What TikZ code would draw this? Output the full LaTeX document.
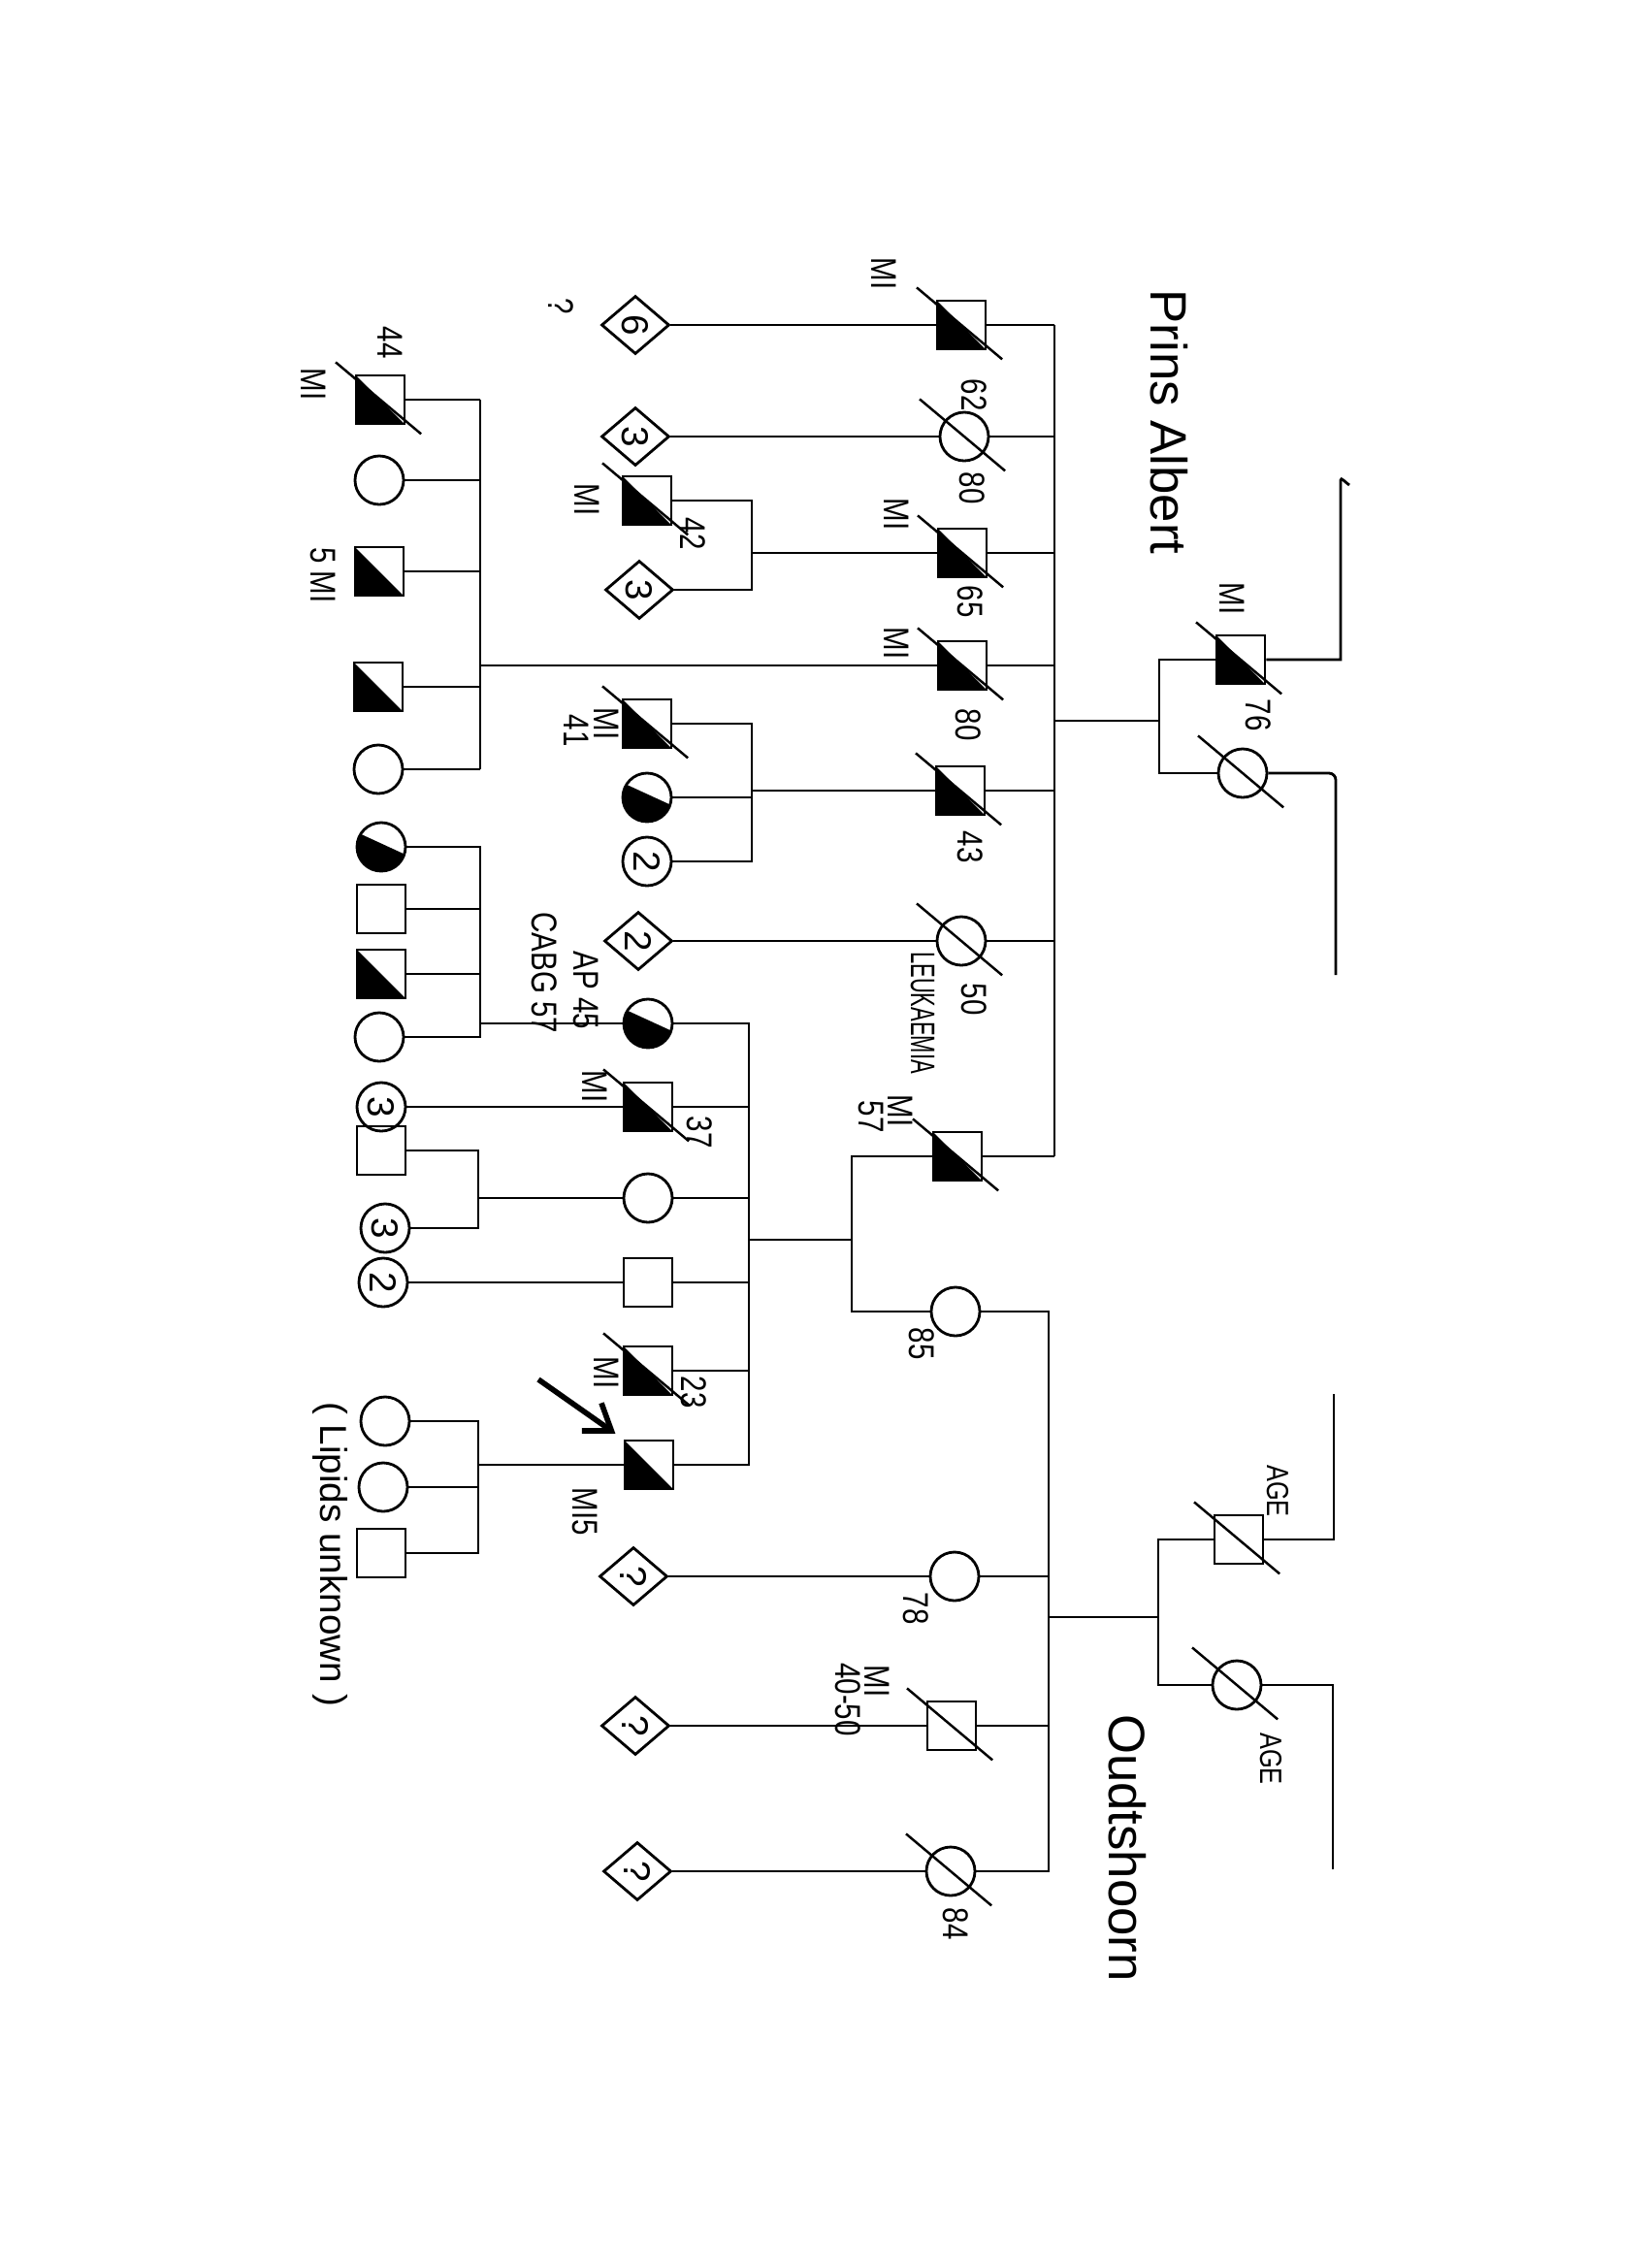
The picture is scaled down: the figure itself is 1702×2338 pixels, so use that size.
\documentclass[tikz,border=0pt]{standalone}
\usepackage{fontspec}
\setmainfont{Liberation Sans}
\usepackage{tikz}
\usetikzlibrary{shapes.geometric}
\usetikzlibrary{arrows.meta}
\tikzset{male/.style={draw, rectangle, minimum size=5mm, inner sep=0pt}}
\tikzset{female/.style={draw, circle, minimum size=5mm, inner sep=0pt}}
\tikzset{unknown/.style={draw, diamond, minimum width=7mm, minimum height=6mm, inner sep=0pt}}
\tikzset{affected/.style={path picture={\fill (path picture bounding box.north west) -- (path picture bounding box.south west) -- (path picture bounding box.south east) -- cycle;}}}
\tikzset{affectedf/.style={path picture={\fill ([yshift=1.5mm]path picture bounding box.west) -- ([yshift=-0.8mm]path picture bounding box.east) -- (path picture bounding box.south east) -- (path picture bounding box.south west) -- cycle;}}}
\tikzset{num/.style={label={[rotate=-90, inner sep=0pt, font=\fontsize{11}{12}\selectfont]center:#1}}}
\tikzset{lbl/.style={rotate=-90, xscale=0.8, inner sep=0pt, font=\fontsize{10.5}{12}\selectfont}}
\tikzset{place/.style={rotate=-90, inner sep=0pt, font=\fontsize{15}{16}\selectfont}}
\tikzset{dead/.style={line width=0.7pt}}
\newcommand{\deadline}[1]{\draw[dead] (#1.center) ++(140:6mm) -- ++(-40:11.5mm);}

\begin{document}
\begin{tikzpicture}[x=0.01cm, y=-0.01cm, line width=0.8pt]
\path[fill=white, use as bounding box] (0,0) rectangle (1702,2338);

\node[male, affected] (pa1) at (1279,680) {};
\node[female] (pa2) at (1281,797) {};
\coordinate (pamate) at (1195,743);
\coordinate (paup) at (1382,495);
\coordinate (padn) at (1377,1005);
\draw (pa1.west) -| (pamate) |- (pa2.west);
\draw (pa1.east) -| (paup) to[out=90, in=150] ++(0.9mm,-0.5mm);
\draw[rounded corners=2pt] (pa2.east) -| (padn);
\node[place] (prins) at (1205,435) {Prins Albert};
\node[lbl] (tpa1) at (1270,617) {MI};
\node[lbl] (apa1) at (1297,737) {76};

\coordinate (s2) at (1087,0);
\node[male, affected] (b1) at (991,335) {};
\node[female] (b2) at (994,450) {};
\node[male, affected] (b3) at (992,570) {};
\node[male, affected] (b4) at (992,686) {};
\node[male, affected] (b5) at (990,815) {};
\node[female] (b6) at (991,970) {};
\node[male, affected] (b7) at (987,1192) {};
\foreach \n in {b1,b2,b3,b4,b5,b6,b7} {\draw (\n.east) -- (\n -| s2);}
\draw (b1 -| s2) -- (b7 -| s2);
\draw (pamate) -- (pamate -| s2);
\foreach \n in {pa1,pa2,b1,b2,b3,b4,b5,b6,b7} {\deadline{\n}}
\node[lbl] (tb1) at (911,282) {MI};
\node[lbl] (ab1) at (1004,407) {62};
\node[lbl] (ab2) at (1002,503) {80};
\node[lbl] (tb3) at (924,530) {MI};
\node[lbl] (ab3) at (1000,620) {65};
\node[lbl] (tb4) at (924,663) {MI};
\node[lbl] (ab4) at (998,747) {80};
\node[lbl] (ab5) at (1000,873) {43};
\node[lbl] (ab6) at (1004,1030) {50};
\node[lbl, xscale=0.78, font=\fontsize{10}{11}\selectfont] (tb6) at (951,1044) {LEUKAEMIA};
\node[lbl] (tb7) at (928,1145) {MI};
\node[lbl] (ab7) at (898,1151) {57};

\node[unknown, num=6] (d6) at (655,335) {};
\draw (d6.east) -- (b1.west);
\node[lbl] (qd6) at (578,316) {?};
\node[unknown, num=3] (d3) at (655,450) {};
\draw (d3.east) -- (b2.west);

\coordinate (s3) at (775,0);
\node[male, affected] (c1) at (667,516) {};
\node[unknown, num=3] (c2) at (659,608) {};
\draw (c1.east) -- (c1 -| s3) -- (c2 -| s3) -- (c2.east);
\draw (s3 |- b3) -- (b3.west);
\deadline{c1}
\node[lbl] (tc1) at (605,515) {MI};
\node[lbl] (ac1) at (714,550) {42};

\coordinate (s1) at (495,0);
\node[male, affected] (a1) at (392,412) {};
\node[female] (a2) at (391,495) {};
\node[male, affected] (a3) at (391,589) {};
\node[male, affected] (a4) at (390,708) {};
\node[female] (a5) at (390,793) {};
\foreach \n in {a1,a2,a3,a4,a5} {\draw (\n.east) -- (\n -| s1);}
\draw (a1 -| s1) -- (a5 -| s1);
\draw (s1 |- b4) -- (b4.west);
\deadline{a1}
\node[lbl] (ta1) at (323,396) {MI};
\node[lbl] (aa1) at (402,353) {44};
\node[lbl] (ta3) at (333,593) {5 MI};

\node[male, affected] (e1) at (667,746) {};
\node[female, affectedf] (e2) at (667,822) {};
\node[female, num=2] (e3) at (667,888) {};
\draw (e1.east) -- (e1 -| s3) -- (e3 -| s3) -- (e3.east);
\draw (e2.east) -- (e2 -| s3);
\draw (s3 |- b5) -- (b5.west);
\deadline{e1}
\node[lbl] (te1) at (625,746) {MI};
\node[lbl] (ae1) at (594,753) {41};

\node[unknown, num=2] (d2) at (658,970) {};
\draw (d2.east) -- (b6.west);

\node[female] (w85) at (985,1352) {};
\coordinate (m57) at (878,1278);
\draw (b7.west) -| (m57) |- (w85.west);
\node[lbl] (aw85) at (950,1385) {85};

\node[male] (o1) at (1277,1587) {};
\node[female] (o2) at (1275,1737) {};
\coordinate (omate) at (1194,1667);
\coordinate (oup) at (1375,1437);
\coordinate (odn) at (1374,1927);
\draw (o1.west) -| (omate) |- (o2.west);
\draw (o1.east) -| (oup);
\draw (o2.east) -| (odn);
\deadline{o1}
\deadline{o2}
\node[lbl, font=\fontsize{9}{10}\selectfont] (ao1) at (1317,1537) {AGE};
\node[lbl, font=\fontsize{9}{10}\selectfont] (ao2) at (1310,1813) {AGE};
\node[place] (oudt) at (1162,1905) {Oudtshoorn};

\coordinate (s4) at (1081,0);
\node[female] (g1) at (984,1625) {};
\node[male] (g2) at (981,1779) {};
\node[female] (g3) at (980,1929) {};
\draw (w85.east) -- (w85 -| s4) -- (g3 -| s4) -- (g3.east);
\draw (g1.east) -- (g1 -| s4);
\draw (g2.east) -- (g2 -| s4);
\draw (omate) -- (omate -| s4);
\deadline{g2}
\deadline{g3}
\node[lbl] (ag1) at (944,1658) {78};
\node[lbl] (tg2) at (904,1733) {MI};
\node[lbl] (ag2) at (874,1752) {40-50};
\node[lbl] (ag3) at (985,1983) {84};
\node[unknown, num=?] (q1) at (653,1625) {};
\node[unknown, num=?] (q2) at (655,1779) {};
\node[unknown, num=?] (q3) at (657,1929) {};
\draw (q1.east) -- (g1.west);
\draw (q2.east) -- (g2.west);
\draw (q3.east) -- (g3.west);

\coordinate (s5) at (772,0);
\node[female, affectedf] (h1) at (668,1055) {};
\node[male, affected] (h2) at (668,1141) {};
\node[female] (h3) at (668,1235) {};
\node[male] (h4) at (668,1322) {};
\node[male, affected] (h5) at (668,1413) {};
\node[male, affected] (h6) at (669,1510) {};
\draw (h1.east) -- (h1 -| s5) -- (h6 -| s5) -- (h6.east);
\foreach \n in {h2,h3,h4,h5} {\draw (\n.east) -- (\n -| s5);}
\draw (m57) -- (m57 -| s5);
\deadline{h2}
\deadline{h5}
\node[lbl] (th1) at (604,1021) {AP 45};
\node[lbl] (uh1) at (561,1003) {CABG 57};
\node[lbl] (th2) at (613,1120) {MI};
\node[lbl] (ah2) at (721,1167) {37};
\node[lbl] (th5) at (625,1415) {MI};
\node[lbl] (ah5) at (715,1435) {23};
\node[lbl] (th6) at (603,1558) {MI5};
\coordinate (arr) at (555,1422);
\draw[-{Straight Barb[length=2.5mm,width=3.5mm]}, line width=1.6pt, shorten >=1mm] (arr) -- (h6.north west);

\coordinate (s6) at (495,0);
\node[female, affectedf] (i1) at (393,873) {};
\node[male] (i2) at (393,937) {};
\node[male, affected] (i3) at (393,1004) {};
\node[female] (i4) at (391,1069) {};
\draw (i1.east) -- (i1 -| s6) -- (i4 -| s6) -- (i4.east);
\draw (i2.east) -- (i2 -| s6);
\draw (i3.east) -- (i3 -| s6);
\draw (h1.west) -- (h1 -| s6);

\node[female, num=3] (j1) at (393,1141) {};
\draw (j1.east) -- (h2.west);

\coordinate (s7) at (493,0);
\node[male] (k1) at (393,1186) {};
\node[female, num=3] (k2) at (397,1266) {};
\draw (k1.east) -- (k1 -| s7) -- (k2 -| s7) -- (k2.east);
\draw (s7 |- h3) -- (h3.west);

\node[female, num=2] (l1) at (395,1322) {};
\draw (l1.east) -- (h4.west);

\node[female] (m1) at (397,1465) {};
\node[female] (m2) at (395,1533) {};
\node[male] (m3) at (393,1601) {};
\draw (m1.east) -- (m1 -| s7) -- (m3 -| s7) -- (m3.east);
\draw (m2.east) -- (m2 -| s7);
\draw (s7 |- h6) -- (h6.west);
\node[lbl, xscale=1.25, font=\fontsize{11}{12}\selectfont] (lipids) at (340,1602) {( Lipids unknown )};
\end{tikzpicture}
\end{document}
